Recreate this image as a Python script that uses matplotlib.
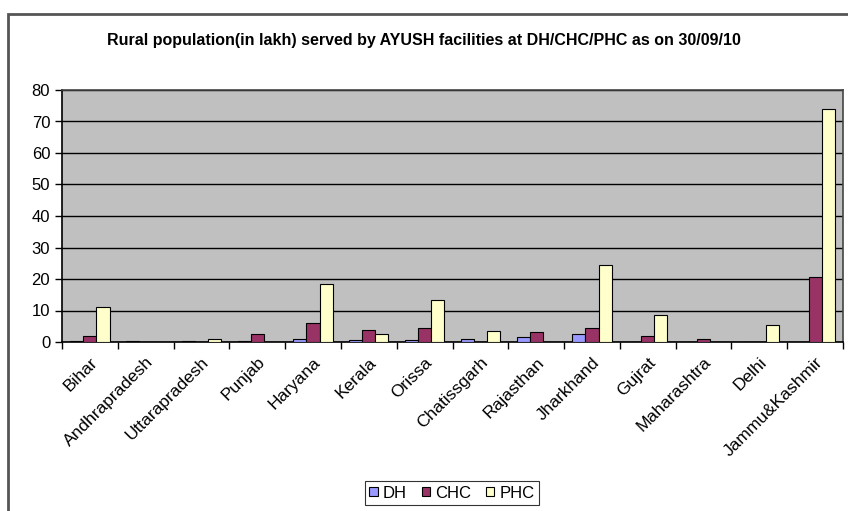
import numpy as np
import matplotlib.pyplot as plt
import matplotlib as mpl
from matplotlib.patches import Rectangle

mpl.rcParams['font.family'] = ['Liberation Sans', 'DejaVu Sans']

states = ['Bihar', 'Andhrapradesh', 'Uttarapradesh', 'Punjab', 'Haryana',
          'Kerala', 'Orissa', 'Chatissgarh', 'Rajasthan', 'Jharkhand',
          'Gujrat', 'Maharashtra', 'Delhi', 'Jammu&Kashmir']
dh = [0.3, 0.3, 0.3, 0.3, 0.8, 0.7, 0.7, 0.8, 1.7, 2.5, 0, 0, 0, 0]
chc = [1.8, 0, 0, 2.5, 5.9, 3.8, 4.3, 0, 3.3, 4.3, 1.9, 1.1, 0, 20.7]
phc = [11.0, 0, 0.9, 0, 18.3, 2.6, 13.2, 3.4, 0, 24.3, 8.5, 0, 5.4, 74.0]

title = 'Rural population(in lakh) served by AYUSH facilities at DH/CHC/PHC as on 30/09/10'


def main():
    fig = plt.figure(figsize=(8.48, 5.11), dpi=100)
    W, H = 848, 511
    ax = fig.add_axes([62 / W, 1 - 342 / H, (843 - 62) / W, (342 - 90) / H])

    # outer chart border
    fig.patches.append(Rectangle((8 / W, -0.1), 1.0, 1 - 14 / H + 0.1,
                                 transform=fig.transFigure, fill=False,
                                 ec='#555555', lw=2))

    x = np.arange(len(states))
    w = 0.235
    b1 = ax.bar(x - w, dh, w, color='#9999FF', ec='black', lw=0.8, label='DH', zorder=3)
    b2 = ax.bar(x, chc, w, color='#993366', ec='black', lw=0.8, label='CHC', zorder=3)
    b3 = ax.bar(x + w, phc, w, color='#FFFFCC', ec='black', lw=0.8, label='PHC', zorder=3)

    ax.set_facecolor('#C0C0C0')
    ax.set_xlim(-0.5, len(states) - 0.5)
    ax.set_ylim(0, 80)
    ax.set_yticks(np.arange(0, 81, 10))
    ax.yaxis.grid(True, color='black', lw=1, zorder=1)
    ax.set_axisbelow(True)
    for s in ax.spines.values():
        s.set_color('#444444')
        s.set_linewidth(1.2)
    ax.spines['left'].set_color('black')
    ax.spines['bottom'].set_color('black')

    ax.set_xticks(x)
    ax.set_xticklabels(states, rotation=45, ha='right', rotation_mode='anchor', fontsize=12.5)
    ax.set_xticks(np.arange(-0.5, len(states), 1), minor=True)
    ax.tick_params(axis='x', which='major', length=0, pad=9)
    ax.tick_params(axis='x', which='minor', length=5, width=1)
    ax.tick_params(axis='y', length=5, width=1, labelsize=12)

    fig.text(0.5, 1 - 40 / H, title, ha='center', va='center',
             fontsize=11.5, fontweight='bold')

    leg = fig.legend(handles=[b1, b2, b3], loc='center', ncols=3,
                     bbox_to_anchor=(452 / W, 1 - 493 / H), fontsize=12,
                     frameon=True, fancybox=False, edgecolor='black',
                     handlelength=0.5, handleheight=0.5, handletextpad=0.3,
                     columnspacing=0.9, borderpad=0.25)
    leg.get_frame().set_linewidth(0.8)

    fig.savefig('out.png', dpi=100)


if __name__ == "__main__":
    main()
